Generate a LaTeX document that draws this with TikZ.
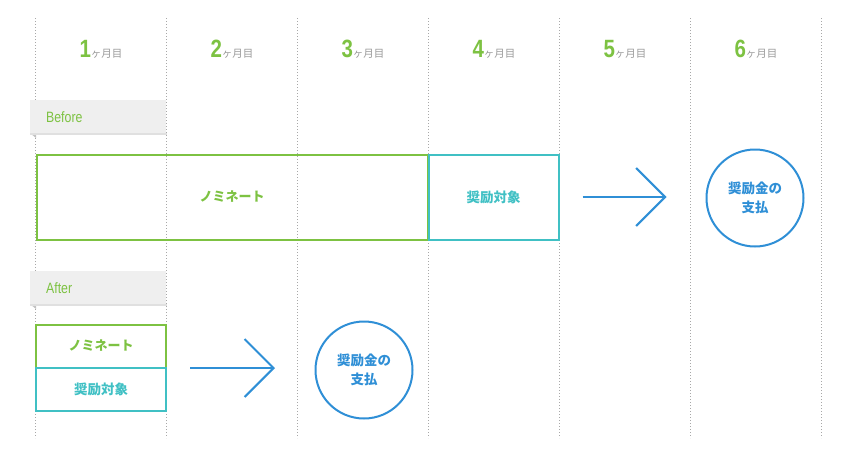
\documentclass[tikz,border=0pt]{standalone}
\usepackage{fontspec}
\usetikzlibrary{arrows.meta}
\newfontfamily\jp{Noto Sans CJK JP}
\newfontfamily\numf{Liberation Sans}[FakeStretch=0.82]
\definecolor{cgreen}{HTML}{7DC242}
\definecolor{cteal}{HTML}{40C0C4}
\definecolor{cblue}{HTML}{2F8FD6}
\definecolor{cgray}{HTML}{9A9A9A}
\definecolor{clabel}{HTML}{EFEFEF}
\definecolor{cdot}{HTML}{A8A8A8}
\tikzset{
  gridline/.style={cdot, line width=1pt, dash pattern=on 1pt off 2pt},
  header/.style={inner sep=0pt, anchor=base},
  tag/.style={fill=clabel, minimum width=136pt, minimum height=33pt, inner sep=0pt, anchor=north west},
  tagtext/.style={cgreen, font=\numf\fontsize{15}{15}\selectfont, inner sep=0pt, anchor=west},
  greenbox/.style={draw=cgreen, line width=2pt, inner sep=0pt, font=\jp\bfseries\fontsize{13}{13}\selectfont, text=cgreen},
  tealbox/.style={draw=cteal, line width=2pt, inner sep=0pt, font=\jp\bfseries\fontsize{13.5}{13.5}\selectfont, text=cteal},
  pay/.style={circle, draw=cblue, line width=2pt, minimum size=97pt, inner sep=0pt, align=center, text=cblue, font=\jp\bfseries\fontsize{13.5}{19}\selectfont},
  flow/.style={cblue, line width=2pt, -{Straight Barb[length=29pt,width=58pt,line width=2pt]}}
}
\newcommand{\mhead}[1]{{\numf\bfseries\fontsize{25}{25}\selectfont\color{cgreen}#1}{\jp\fontsize{10.5}{10.5}\selectfont\color{cgray}ヶ月目}}
\begin{document}
\begin{tikzpicture}[x=1pt,y=-1pt]
\useasboundingbox (0,0) rectangle (843,459);
% grid lines
\foreach \i/\x in {0/35.5,1/166.5,2/297.5,3/428.5,4/559.5,5/690.5,6/821.5}{
  \draw[gridline] (\x,18) -- (\x,438);
}
% headers
\node[header] (h1) at (101,57) {\mhead{1}};
\node[header] (h2) at (232,57) {\mhead{2}};
\node[header] (h3) at (363,57) {\mhead{3}};
\node[header] (h4) at (494,57) {\mhead{4}};
\node[header] (h5) at (625,57) {\mhead{5}};
\node[header] (h6) at (756,57) {\mhead{6}};
% Before tag
\fill[cgray!60] (30,133) -- (36,133) -- (36,138) -- cycle;
\fill[black!12] (30,133) rectangle (166.5,134.5);
\node[tag] (beforetag) at (30,100) {};
\node[tagtext] (beforetxt) at (46,117) {Before};
% Before boxes
\node[greenbox, minimum width=391pt, minimum height=85pt] (nomB) at (232,197) {ノミネート};
\node[tealbox, minimum width=130pt, minimum height=85pt] (shoB) at (493.5,197) {奨励対象};
\node[pay] (payB) at (755,198) {奨励金の\\支払};
\draw[flow, shorten <=23pt, shorten >=39pt] (shoB.east) -- (payB.west |- shoB.east);
% After tag
\fill[cgray!60] (30,304) -- (36,304) -- (36,309) -- cycle;
\fill[black!12] (30,304) rectangle (166.5,305.5);
\node[tag] (aftertag) at (30,271) {};
\node[tagtext] (aftertxt) at (46,288) {After};
% After boxes
\node[greenbox, minimum width=130pt, minimum height=43pt] (nomA) at (101,346) {ノミネート};
\node[tealbox, minimum width=130pt, minimum height=43pt] (shoA) at (101,389) {奨励対象};
\node[pay] (payA) at (364,370) {奨励金の\\支払};
\coordinate (aStart) at (190,368);
\coordinate (aEnd) at (275,368);
\draw[flow] (aStart) -- (aEnd);
\end{tikzpicture}
\end{document}
